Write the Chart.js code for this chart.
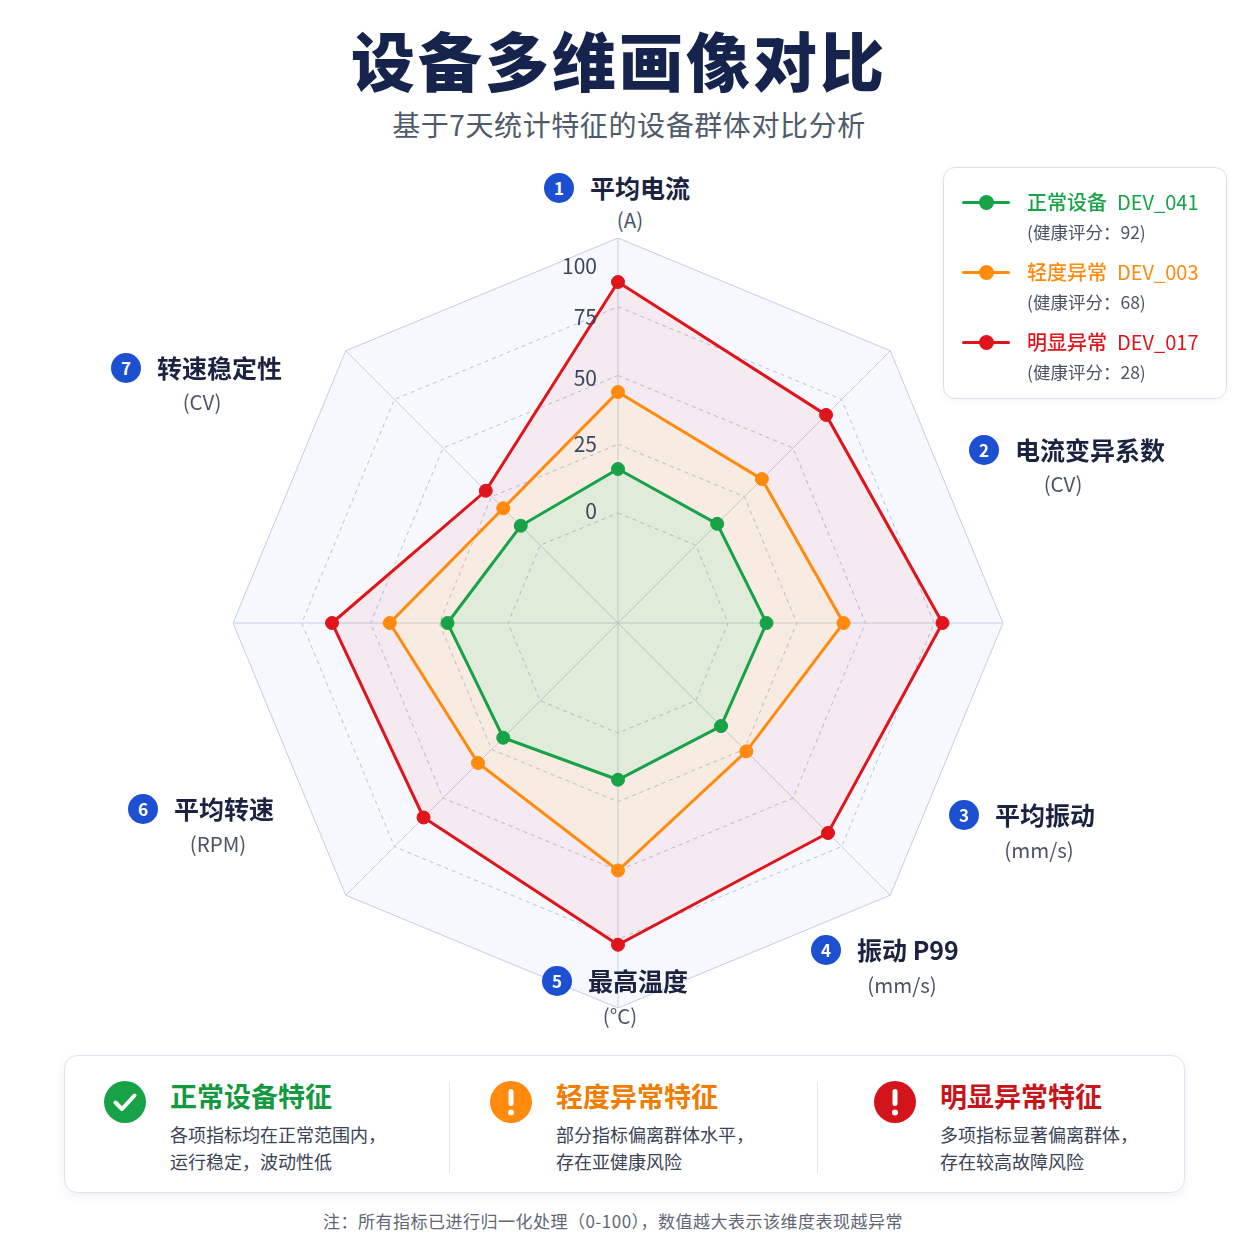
<!DOCTYPE html>
<html lang="zh-CN">
<head>
<meta charset="utf-8">
<title>设备多维画像对比</title>
<script src="https://cdn.jsdelivr.net/npm/chart.js@4.4.1/dist/chart.umd.min.js"></script>
<style>
  html, body { margin: 0; padding: 0; background: #fff; }
  body {
    width: 1254px; height: 1254px; position: relative; overflow: hidden;
    font-family: 'Noto Sans CJK SC', 'Noto Sans', sans-serif; color: #1b2340;
  }
  .title {
    position: absolute; left: 0; width: 1238px; top: 14px; text-align: center;
    font-size: 64px; font-weight: 900; line-height: 88px; color: #16244d; letter-spacing: 3px;
  }
  .subtitle {
    position: absolute; left: 0; width: 1258px; top: 105px; text-align: center;
    font-size: 28px; line-height: 38px; color: #4f5a6b; letter-spacing: 0.6px;
  }
  #chartBox { position: absolute; left: 233px; top: 238px; width: 770px; height: 770px; }
  .axis-name {
    position: absolute; white-space: nowrap; font-size: 25px; font-weight: 700;
    line-height: 30px; color: #1b2340;
  }
  .badge {
    position: absolute; width: 30px; height: 30px; border-radius: 50%;
    background: #1d4fd1; color: #fff; font-size: 17px; font-weight: 700;
    line-height: 30px; text-align: center;
  }
  .axis-unit {
    position: absolute; white-space: nowrap; font-size: 20.5px; line-height: 26px;
    color: #4a5466; transform: translateX(-50%);
  }
  .legend {
    position: absolute; left: 943px; top: 167px; width: 284px; height: 232px;
    box-sizing: border-box; border: 1px solid #d9dfe9; border-radius: 12px; background: #fff;
    box-shadow: 0 2px 6px rgba(30, 60, 120, 0.05);
  }
  .lg-item { position: absolute; left: 0; width: 100%; height: 60px; }
  .lg-line { position: absolute; left: 18px; top: 13px; width: 48px; height: 3px; border-radius: 2px; }
  .lg-dot { position: absolute; left: 35px; top: 7px; width: 15px; height: 15px; border-radius: 50%; }
  .lg-name { position: absolute; left: 83px; top: -1px; font-size: 20px; line-height: 30px; white-space: nowrap; font-weight: 500; }
  .lg-name span { margin-left: 10px; font-weight: 400; }
  .lg-score { position: absolute; left: 83px; top: 31px; font-size: 17.5px; line-height: 26px; color: #4a5466; white-space: nowrap; }
  .cards {
    position: absolute; left: 64px; top: 1055px; width: 1121px; height: 138px;
    box-sizing: border-box; border: 1px solid #dfe5f0; border-radius: 14px; background: #fff;
    box-shadow: 0 3px 10px rgba(30, 60, 120, 0.08);
  }
  .card { position: absolute; top: 0; height: 138px; }
  .card svg { position: absolute; left: 0; top: 24px; }
  .card h3 { position: absolute; margin: 0; top: 20px; white-space: nowrap; font-size: 27px; line-height: 40px; font-weight: 700; }
  .card p { position: absolute; margin: 0; top: 65px; white-space: nowrap; font-size: 18px; line-height: 27px; color: #3a4255; }
  .divider { position: absolute; top: 25px; width: 1px; height: 92px; background: #e2e7f0; }
  .note {
    position: absolute; left: 0; width: 1226px; top: 1208px; text-align: center;
    font-size: 17px; line-height: 26px; color: #5f6675; letter-spacing: 0.5px;
  }
</style>
</head>
<body>
<div class="title">设备多维画像对比</div>
<div class="subtitle">基于7天统计特征的设备群体对比分析</div>
<div id="chartBox"><canvas id="radar"></canvas></div>
<div id="axisLabels"></div>
<div class="legend" id="legend"></div>
<div class="cards" id="cards"></div>
<div class="note">注：所有指标已进行归一化处理（0-100），数值越大表示该维度表现越异常</div>

<script>
// axes (7 named dimensions, drawn on an 8-spoke grid; the left spoke carries no name)
const axisNames = ['平均电流', '电流变异系数', '平均振动', '振动 P99', '最高温度', '平均转速', '转速稳定性'];
const axisUnits = ['(A)', '(CV)', '(mm/s)', '(mm/s)', '(°C)', '(RPM)', '(CV)'];
const spokeLabels = ['平均电流', '电流变异系数', '平均振动', '振动 P99', '最高温度', '平均转速', '', '转速稳定性'];
const tickValues = [0, 25, 50, 75, 100];

// series
const seriesNames = ['正常设备', '轻度异常', '明显异常'];
const deviceIds = ['DEV_041', 'DEV_003', 'DEV_017'];
const healthScores = [92, 68, 28];
const normalValues = [16, 11, 14, 13, 17, 19, 22, 10];
const mildValues = [44, 34, 42, 26, 50, 32, 43, 19];
const severeValues = [84, 67, 78, 68, 77, 60, 64, 28];

// bottom notes
const cardTitles = ['正常设备特征', '轻度异常特征', '明显异常特征'];
const cardLines = [
  ['各项指标均在正常范围内，', '运行稳定，波动性低'],
  ['部分指标偏离群体水平，', '存在亚健康风险'],
  ['多项指标显著偏离群体，', '存在较高故障风险']
];

const lineColors = ['#17a247', '#ff8a0d', '#e0141b'];
const fillColors = ['rgba(110,165,40,0.16)', 'rgba(255,138,13,0.11)', 'rgba(224,20,27,0.06)'];
const fillTargets = ['start', '-1', '-1'];   // each band only tints its own ring
const titleColors = ['#139a3e', '#f07c00', '#c8141b'];
const tickNudge = [-2, 0, 3, 10, 28];

// where the axis names sit: badge centre and unit centre (page px)
const labelSpots = [
  { bx: 559, by: 188, ux: 630, uy: 219 },
  { bx: 984, by: 450, ux: 1063, uy: 483 },
  { bx: 964, by: 815, ux: 1039, uy: 849 },
  { bx: 826, by: 950, ux: 902, uy: 984 },
  { bx: 557, by: 981, ux: 620, uy: 1015 },
  { bx: 143, by: 809, ux: 218, uy: 843 },
  { bx: 126, by: 368, ux: 202, uy: 401 }
];

const axisBox = document.getElementById('axisLabels');
axisNames.forEach((name, i) => {
  const s = labelSpots[i];
  axisBox.insertAdjacentHTML('beforeend',
    `<div class="badge" style="left:${s.bx - 15}px;top:${s.by - 15}px">${i + 1}</div>` +
    `<div class="axis-name" style="left:${s.bx + 31}px;top:${s.by - 16}px">${name}</div>` +
    `<div class="axis-unit" style="left:${s.ux}px;top:${s.uy - 13}px">${axisUnits[i]}</div>`);
});

const legend = document.getElementById('legend');
seriesNames.forEach((name, i) => {
  legend.insertAdjacentHTML('beforeend',
    `<div class="lg-item" style="top:${20 + i * 70}px">` +
    `<div class="lg-line" style="background:${lineColors[i]}"></div>` +
    `<div class="lg-dot" style="background:${lineColors[i]}"></div>` +
    `<div class="lg-name" style="color:${lineColors[i]}">${name}<span>${deviceIds[i]}</span></div>` +
    `<div class="lg-score">(健康评分：${healthScores[i]})</div></div>`);
});

const icons = [
  c => `<svg width="44" height="44" viewBox="0 0 44 44"><circle cx="22" cy="22" r="21" fill="${c}"/><path d="M12.5 22.5 L19 29 L31.5 15.5" fill="none" stroke="#fff" stroke-width="4" stroke-linecap="round" stroke-linejoin="round"/></svg>`,
  c => `<svg width="44" height="44" viewBox="0 0 44 44"><circle cx="22" cy="22" r="21" fill="${c}"/><rect x="19.5" y="9" width="5" height="17" rx="2.5" fill="#fff"/><circle cx="22" cy="32.5" r="3" fill="#fff"/></svg>`
];
const cards = document.getElementById('cards');
const cardLeft = [38, 424, 808];
const iconColors = ['#17a247', '#ff8a0d', '#d4141b'];
cardTitles.forEach((t, i) => {
  cards.insertAdjacentHTML('beforeend',
    `<div class="card" style="left:${cardLeft[i]}px">` + icons[i ? 1 : 0](iconColors[i]) +
    `<h3 style="left:67px;color:${titleColors[i]}">${t}</h3>` +
    `<p style="left:67px">${cardLines[i].join('<br>')}</p></div>`);
});
[384, 752].forEach(x => cards.insertAdjacentHTML('beforeend', `<div class="divider" style="left:${x}px"></div>`));

// light backdrop inside the outer ring
const octagonFill = {
  id: 'octagonFill',
  beforeDraw(chart) {
    const r = chart.scales.r, ctx = chart.ctx;
    ctx.save();
    ctx.beginPath();
    chart.data.labels.forEach((l, i) => {
      const p = r.getPointPositionForValue(i, r.max);
      if (i) ctx.lineTo(p.x, p.y); else ctx.moveTo(p.x, p.y);
    });
    ctx.closePath();
    ctx.fillStyle = '#f6f8fd';
    ctx.fill();
    ctx.restore();
  }
};

// tick numbers sit left of the top spoke
const tickText = {
  id: 'tickText',
  afterDatasetsDraw(chart) {
    const r = chart.scales.r, ctx = chart.ctx;
    ctx.save();
    ctx.font = '21px "Noto Sans CJK SC", "Noto Sans", sans-serif';
    ctx.fillStyle = '#3b465e';
    ctx.textAlign = 'right';
    ctx.textBaseline = 'middle';
    r.ticks.forEach((t, i) => {
      const y = r.yCenter - r.getDistanceFromCenterForValue(t.value);
      ctx.fillText(t.label, r.xCenter - 21, y + tickNudge[i]);
    });
    ctx.restore();
  }
};

const seriesValues = [normalValues, mildValues, severeValues];

new Chart(document.getElementById('radar'), {
  type: 'radar',
  data: {
    labels: spokeLabels,
    datasets: seriesNames.map((name, i) => ({
      label: name + ' ' + deviceIds[i],
      data: seriesValues[i],
      borderColor: lineColors[i],
      backgroundColor: fillColors[i],
      pointBackgroundColor: lineColors[i],
      pointBorderColor: lineColors[i],
      pointRadius: 6.5,
      pointBorderWidth: 1,
      borderWidth: 3,
      fill: fillTargets[i]
    }))
  },
  options: {
    responsive: true,
    maintainAspectRatio: false,
    animation: false,
    plugins: { legend: { display: false }, tooltip: { enabled: false } },
    scales: {
      r: {
        min: -40,
        max: 100,
        afterBuildTicks: s => { s.ticks = tickValues.map(v => ({ value: v })); },
        ticks: { display: false },
        pointLabels: { display: false },
        grid: {
          color: c => (c.tick && c.tick.value === 100) ? '#c3cde6' : '#b6c3e4',
          lineWidth: 1
        },
        border: { dash: c => (c.tick && c.tick.value === 100) ? [] : [4, 4] },
        angleLines: { color: '#c6d0e6', lineWidth: 1 }
      }
    }
  },
  plugins: [octagonFill, tickText]
});
</script>
</body>
</html>
